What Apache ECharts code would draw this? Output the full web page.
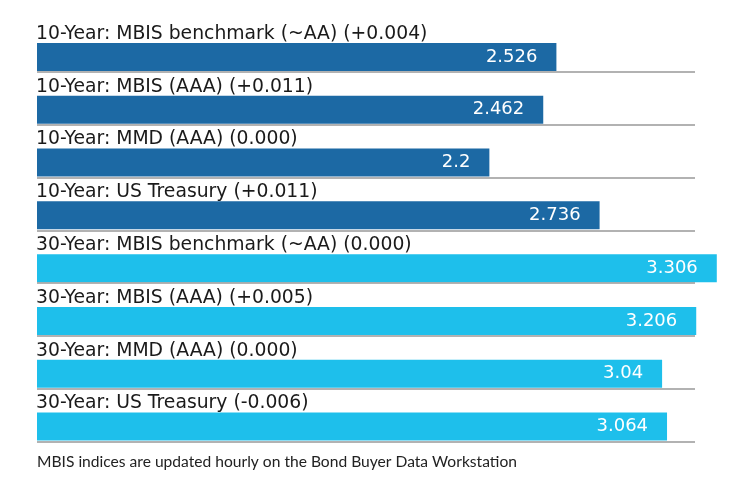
<!DOCTYPE html>
<html>
<head>
<meta charset="utf-8">
<script src="https://cdn.jsdelivr.net/npm/echarts@6/dist/echarts.min.js"></script>
<style>html,body{margin:0;padding:0;background:#fff}#c{width:740px;height:490px}</style>
</head>
<body>
<div id="c"></div>
<script>
var categories = [
  '10-Year: MBIS benchmark (~AA) (+0.004)',
  '10-Year: MBIS (AAA) (+0.011)',
  '10-Year: MMD (AAA) (0.000)',
  '10-Year: US Treasury (+0.011)',
  '30-Year: MBIS benchmark (~AA) (0.000)',
  '30-Year: MBIS (AAA) (+0.005)',
  '30-Year: MMD (AAA) (0.000)',
  '30-Year: US Treasury (-0.006)'
];
var values = [2.526, 2.462, 2.2, 2.736, 3.306, 3.206, 3.04, 3.064];
var tenors = ['10', '10', '10', '10', '30', '30', '30', '30'];
var footnote = 'MBIS indices are updated hourly on the Bond Buyer Data Workstation';

var colorFor = { '10': '#1c69a4', '30': '#1ebfeb' };

var chart = echarts.init(document.getElementById('c'), null, { renderer: 'canvas' });
chart.setOption({
  animation: false,
  title: {
    text: footnote,
    left: 37, top: 454, padding: 0,
    textStyle: { fontFamily: 'Lato', fontSize: 15.6, fontWeight: 'normal', color: '#222' }
  },
  grid: { left: 37, right: 45, top: 19.2, bottom: 48.5, containLabel: false },
  xAxis: {
    type: 'value', min: 0, max: 3.2,
    show: false,
    splitLine: { show: false }
  },
  yAxis: {
    type: 'category', inverse: true, data: categories, z: 10,
    axisLine: { show: false }, axisTick: { show: false },
    axisLabel: {
      inside: true, margin: -1, align: 'left', verticalAlign: 'bottom',
      lineHeight: 23.2,
      fontFamily: 'DejaVu Sans', fontSize: 18.8, color: '#1a1a1a'
    },
    splitLine: { show: true, showMinLine: false, lineStyle: { color: '#999', width: 1.5 } }
  },
  series: [
    {
      type: 'bar', barWidth: 28, barGap: '-18.6%', silent: true,
      data: values.map(function () { return 0; }),
      itemStyle: { color: 'rgba(0,0,0,0)' }
    },
    {
      type: 'bar', barWidth: 28, clip: false,
      data: values.map(function (v, i) { return { value: v, itemStyle: { color: colorFor[tenors[i]] } }; }),
      label: {
        show: true, position: 'insideRight', distance: 19,
        fontFamily: 'DejaVu Sans', fontSize: 18, color: '#fff',
        formatter: function (p) { return String(p.value); }
      }
    }
  ]
});
</script>
</body>
</html>
